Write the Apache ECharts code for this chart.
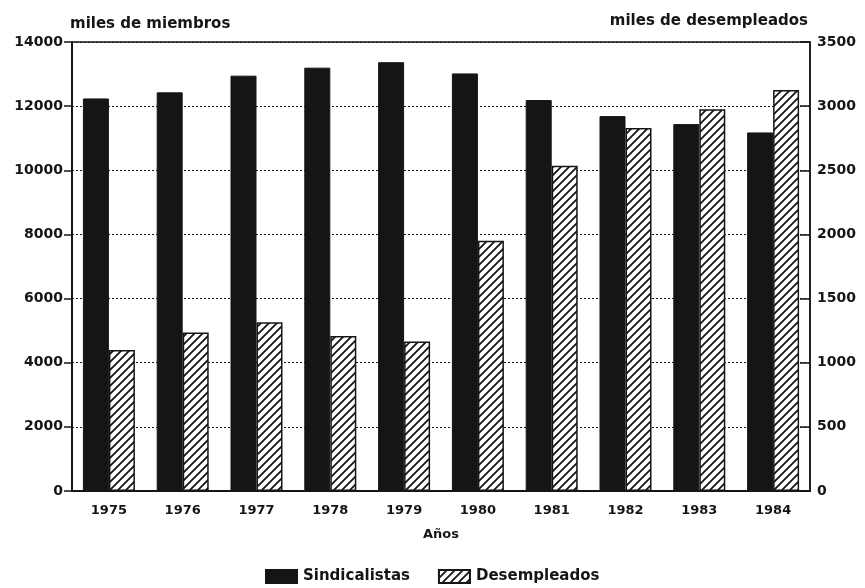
<!DOCTYPE html>
<html>
<head>
<meta charset="utf-8">
<script src="https://cdn.jsdelivr.net/npm/echarts@6/dist/echarts.min.js"></script>
<style>
  html, body { margin: 0; padding: 0; background: #fff; }
  #chart { width: 865px; height: 588px; }
</style>
</head>
<body>
<div id="chart"></div>
<script>
// years and values
const years = ['1975', '1976', '1977', '1978', '1979', '1980', '1981', '1982', '1983', '1984'];
const sindicalistas = [12240, 12430, 12950, 13200, 13370, 13020, 12190, 11690, 11440, 11180];
const desempleados = [1100, 1235, 1315, 1208, 1165, 1950, 2535, 2830, 2975, 3125];
const leftTicks = [0, 2000, 4000, 6000, 8000, 10000, 12000, 14000];
const rightTicks = [0, 500, 1000, 1500, 2000, 2500, 3000, 3500];

const FONT = 'DejaVu Sans';
const ink = '#151515';

// hatch pattern for the unemployed bars
function makeHatch() {
  const c = document.createElement('canvas');
  c.width = 8; c.height = 8;
  const ctx = c.getContext('2d');
  ctx.fillStyle = '#fff';
  ctx.fillRect(0, 0, 8, 8);
  ctx.strokeStyle = ink;
  ctx.lineWidth = 1.8;
  ctx.beginPath();
  ctx.moveTo(-2, 10); ctx.lineTo(10, -2);
  ctx.moveTo(-2, 2); ctx.lineTo(2, -2);
  ctx.moveTo(6, 10); ctx.lineTo(10, 6);
  ctx.stroke();
  return c;
}
const hatch = { image: makeHatch(), repeat: 'repeat' };

const myChart = echarts.init(document.getElementById('chart'));

const txt = size => ({ color: ink, fontFamily: FONT, fontWeight: 'bold', fontSize: size });

const option = {
  animation: false,
  backgroundColor: '#fff',
  grid: {
    left: 72, right: 55, top: 42, bottom: 97,
    show: true, borderColor: ink, borderWidth: 1.5
  },
  legend: {
    top: 564,
    left: 260,
    icon: 'rect',
    itemWidth: 31,
    itemHeight: 13,
    itemGap: 28,
    textStyle: Object.assign({ padding: [0, 0, 0, 1] }, txt(15)),
    data: ['Sindicalistas', 'Desempleados']
  },
  xAxis: {
    type: 'category',
    data: years,
    name: 'Años',
    nameLocation: 'middle',
    nameGap: 37,
    nameTextStyle: txt(13),
    axisLine: { lineStyle: { color: ink, width: 2 } },
    axisTick: { show: false },
    axisLabel: Object.assign({ margin: 13 }, txt(13))
  },
  yAxis: [
    {
      type: 'value',
      min: 0, max: 14000, interval: 2000,
      name: 'miles de miembros',
      nameLocation: 'end',
      nameGap: 10,
      nameTextStyle: Object.assign({ align: 'left', padding: [0, 0, 0, -2] }, txt(15)),
      axisLine: { show: true, lineStyle: { color: ink, width: 2 } },
      axisTick: { show: true, inside: false, length: 8, lineStyle: { color: ink, width: 1.5 } },
      axisLabel: Object.assign({ margin: 9, formatter: v => leftTicks.includes(v) ? String(v) : '' }, txt(14)),
      splitLine: { show: true, lineStyle: { color: ink, type: [2, 2], width: 1 } }
    },
    {
      type: 'value',
      min: 0, max: 3500, interval: 500,
      name: 'miles de desempleados',
      nameLocation: 'end',
      nameGap: 13,
      nameTextStyle: Object.assign({ align: 'right', padding: [0, 2, 0, 0] }, txt(15)),
      axisLine: { show: true, lineStyle: { color: ink, width: 1.5 } },
      axisTick: { show: true, inside: true, length: 10, lineStyle: { color: ink, width: 1.5 } },
      axisLabel: Object.assign({ margin: 7, formatter: v => rightTicks.includes(v) ? String(v) : '' }, txt(14)),
      splitLine: { show: false }
    }
  ],
  series: [
    {
      name: 'Sindicalistas',
      type: 'bar',
      yAxisIndex: 0,
      data: sindicalistas,
      barWidth: 26,
      barGap: '0%',
      itemStyle: { color: ink, borderColor: ink, borderWidth: 1 }
    },
    {
      name: 'Desempleados',
      type: 'bar',
      yAxisIndex: 1,
      data: desempleados,
      barWidth: 26,
      barGap: '0%',
      itemStyle: { color: hatch, borderColor: ink, borderWidth: 1.5 }
    }
  ]
};

myChart.setOption(option);
</script>
</body>
</html>
